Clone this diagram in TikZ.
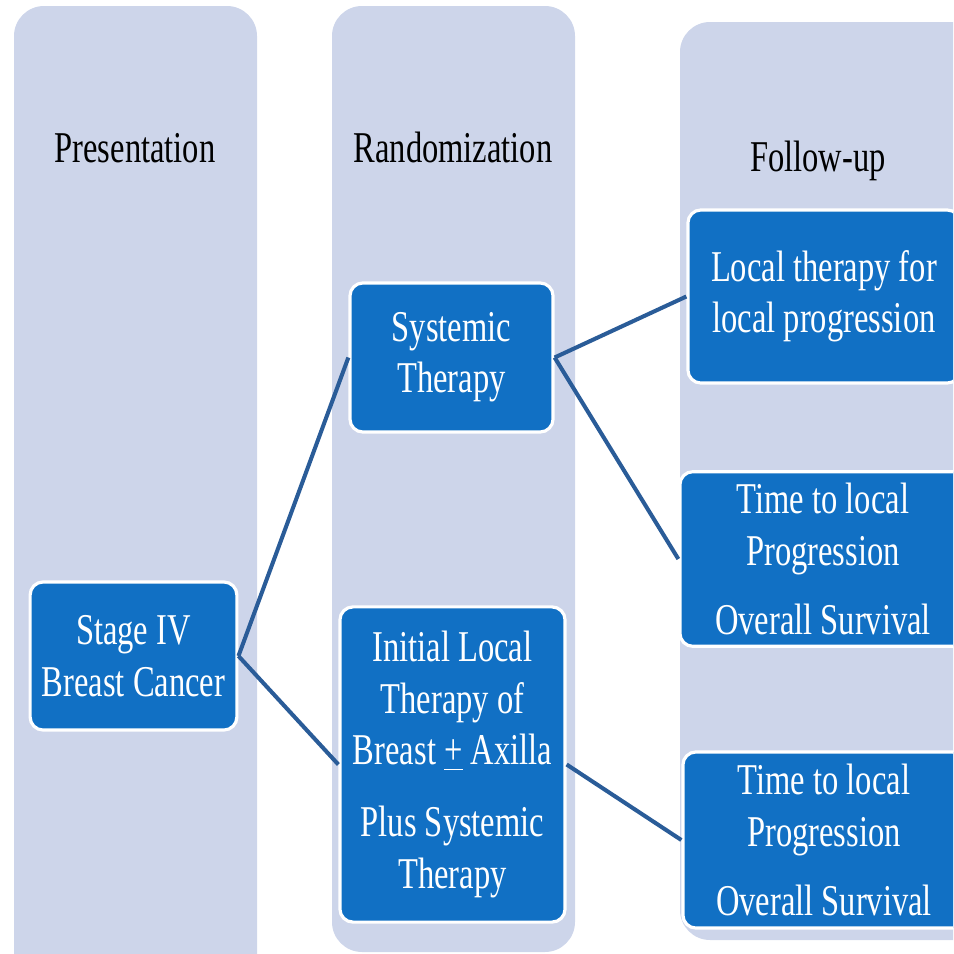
\documentclass[tikz,border=0pt]{standalone}
\usepackage{fontspec}
\setmainfont{Liberation Serif}[FakeStretch=0.74]
\definecolor{colbg}{HTML}{CDD5EA}
\definecolor{boxblue}{HTML}{1170C4}
\definecolor{linkblue}{HTML}{2A5C98}
\begin{document}
\begin{tikzpicture}[x=0.01cm,y=-0.01cm,
    stagebox/.style={fill=boxblue, draw=white, line width=0.9pt, rounded corners=0.13cm, text=white, align=center, font=\fontsize{12.5}{14.6}\selectfont},
    head/.style={anchor=base, font=\fontsize{12.5}{14.6}\selectfont},
    link/.style={linkblue, line width=1.15pt}]
        \clip (0,0) rectangle (953,954);
        % columns
        \fill[colbg, rounded corners=0.3cm] (14,6) rectangle (257,1000);
        \fill[colbg, rounded corners=0.3cm] (332,6) rectangle (575,952);
        \fill[colbg, rounded corners=0.3cm] (680,22) rectangle (1000,940);
        \node[head] (hpres) at (135,162) {Presentation};
        \node[head] (hrand) at (453,162) {Randomization};
        \node[head] (hfoll) at (818,171) {Follow-up};
        % boxes
        \node[stagebox, minimum width=2.01cm, minimum height=1.48cm] (stage) at (133.5,656) {Stage IV\\Breast Cancer};
        \node[stagebox, minimum width=2.03cm, minimum height=1.49cm] (syst) at (451.5,357.5) {Systemic\\Therapy};
        \node[stagebox, minimum width=2.25cm, minimum height=3.15cm] (init) at (452.5,764.5) {Initial Local\\Therapy of\\Breast \underline{+} Axilla\\[6pt]Plus Systemic\\Therapy};
        \node[stagebox, minimum width=2.72cm, minimum height=1.73cm] (ltp) at (824,296.5) {Local therapy for\\local progression};
        \node[stagebox, minimum width=2.86cm, minimum height=1.58cm] (ttp) at (823,559) {Time to local\\Progression\\[5pt]Overall Survival};
        \node[stagebox, minimum width=2.82cm, minimum height=1.76cm] (ttpb) at (824,840) {Time to local\\Progression\\[5pt]Overall Survival};
        % connectors
        \draw[link] (stage.east) -- (syst.west);
        \draw[link] (stage.east) -- (init.west);
        \draw[link] (syst.east) -- (ltp.west);
        \draw[link] (syst.east) -- (ttp.west);
        \draw[link] (init.east) -- (ttpb.west);
    \end{tikzpicture}
\end{document}
